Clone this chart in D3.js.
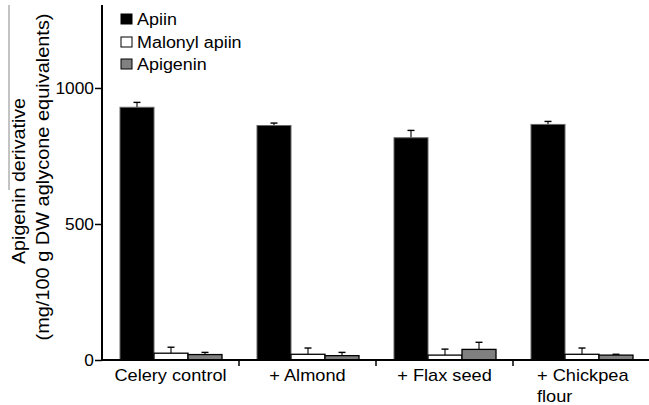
<!DOCTYPE html>
<html><head><meta charset="utf-8">
<script src="https://cdn.jsdelivr.net/npm/d3@7"></script>
<style>body{margin:0;background:#fff}svg{display:block}text{font-family:"Liberation Sans",Arial,sans-serif;fill:#000}</style>
</head><body><svg id="c" width="649" height="405"></svg>
<script>
const categories = ["Celery control", "+ Almond", "+ Flax seed", "+ Chickpea flour"];
const seriesNames = ["Apiin", "Malonyl apiin", "Apigenin"];
const apiin = [929, 862, 817, 866];
const apiinErr = [18, 9, 27, 11];
const malonyl = [25, 21, 18, 21];
const malonylErr = [22, 23, 22, 23];
const apigenin = [20, 16, 39, 18];
const apigeninErr = [8, 12, 26, 3];
const yTicks = [0, 500, 1000];
const colors = ["#000000", "#ffffff", "#808080"];

const values = [apiin, malonyl, apigenin];
const errs = [apiinErr, malonylErr, apigeninErr];
const svg = d3.select("#c");
const x0 = d3.scaleBand().domain(categories).range([102, 650]).paddingInner(0).paddingOuter(0);
const x1 = d3.scaleBand().domain(seriesNames).range([18, 120]);
const y = d3.scaleLinear().domain([0, 1305]).range([360, 5]);

function stretch(sel, k) {
  sel.each(function () {
    const len = this.getComputedTextLength();
    d3.select(this).attr("textLength", len * k).attr("lengthAdjust", "spacingAndGlyphs");
  });
}

// bars
categories.forEach((c, ci) => {
  seriesNames.forEach((s, si) => {
    const v = values[si][ci], e = errs[si][ci];
    const bx = x0(c) + x1(s), bw = x1.bandwidth();
    const cx = bx + bw / 2;
    svg.append("line").attr("x1", cx).attr("x2", cx).attr("y1", y(v)).attr("y2", y(v + e)).attr("stroke", "#000").attr("stroke-width", 1.1);
    svg.append("line").attr("x1", cx - 3.5).attr("x2", cx + 3.5).attr("y1", y(v + e)).attr("y2", y(v + e)).attr("stroke", "#000").attr("stroke-width", 1.4);
    svg.append("rect").attr("x", bx).attr("y", y(v)).attr("width", bw).attr("height", y(0) - y(v))
      .attr("fill", colors[si]).attr("stroke", si === 0 ? "#666" : "#000").attr("stroke-width", si === 0 ? 1 : 1.3);
  });
});

// y axis
const yAxis = d3.axisLeft(y).tickValues(yTicks).tickSize(7).tickPadding(2).tickFormat(d3.format("d"));
const gy = svg.append("g").attr("transform", "translate(102,0)").call(yAxis);
gy.select(".domain").remove();
gy.selectAll(".tick line").attr("stroke", "#000").attr("stroke-width", 1.5);
gy.selectAll(".tick text").attr("font-size", 16.5).attr("dy", "0.34em").attr("x", -8)
  .style("font-family", "Liberation Sans, Arial, sans-serif");
stretch(gy.selectAll(".tick text"), 1.05);
svg.append("line").attr("x1", 102).attr("x2", 102).attr("y1", 5).attr("y2", 361).attr("stroke", "#000").attr("stroke-width", 2);

// x axis
svg.append("line").attr("x1", 101).attr("x2", 649).attr("y1", 360).attr("y2", 360).attr("stroke", "#000").attr("stroke-width", 2);
categories.slice(1).forEach(c => {
  svg.append("line").attr("x1", x0(c)).attr("x2", x0(c)).attr("y1", 360).attr("y2", 366).attr("stroke", "#000").attr("stroke-width", 1.5);
});
categories.forEach(c => {
  const cx = x0(c) + x0.bandwidth() / 2;
  if (c === "+ Chickpea flour") {
    const a = svg.append("text").attr("font-size", 17).attr("x", 537).attr("y", 381).text("+ Chickpea");
    const b = svg.append("text").attr("font-size", 17).attr("x", 537).attr("y", 402).text("flour");
    stretch(a, 1.07); stretch(b, 1.07);
  } else {
    const t = svg.append("text").attr("font-size", 17).attr("text-anchor", "middle").attr("x", cx).attr("y", 381).text(c);
    stretch(t, 1.07);
  }
});

// y title
svg.append("text").attr("font-size", 17.5).attr("text-anchor", "middle")
  .attr("transform", "translate(25,181) rotate(-90)")
  .attr("textLength", 166).attr("lengthAdjust", "spacingAndGlyphs")
  .text("Apigenin derivative");
svg.append("text").attr("font-size", 17.5).attr("text-anchor", "middle")
  .attr("transform", "translate(49,177) rotate(-90)")
  .attr("textLength", 327).attr("lengthAdjust", "spacingAndGlyphs")
  .text("(mg/100 g DW aglycone equivalents)");
svg.append("line").attr("x1", 9).attr("x2", 9).attr("y1", 5).attr("y2", 190).attr("stroke", "#888").attr("stroke-width", 1);

// legend
const legY = [19, 42, 64];
seriesNames.forEach((s, i) => {
  svg.append("rect").attr("x", 121).attr("y", legY[i] - 5).attr("width", 11).attr("height", 10)
    .attr("fill", colors[i]).attr("stroke", "#000").attr("stroke-width", 1);
  const t = svg.append("text").attr("font-size", 16).attr("x", 137).attr("y", legY[i] + 6).text(s);
  stretch(t, 1.12);
});
</script></body></html>
